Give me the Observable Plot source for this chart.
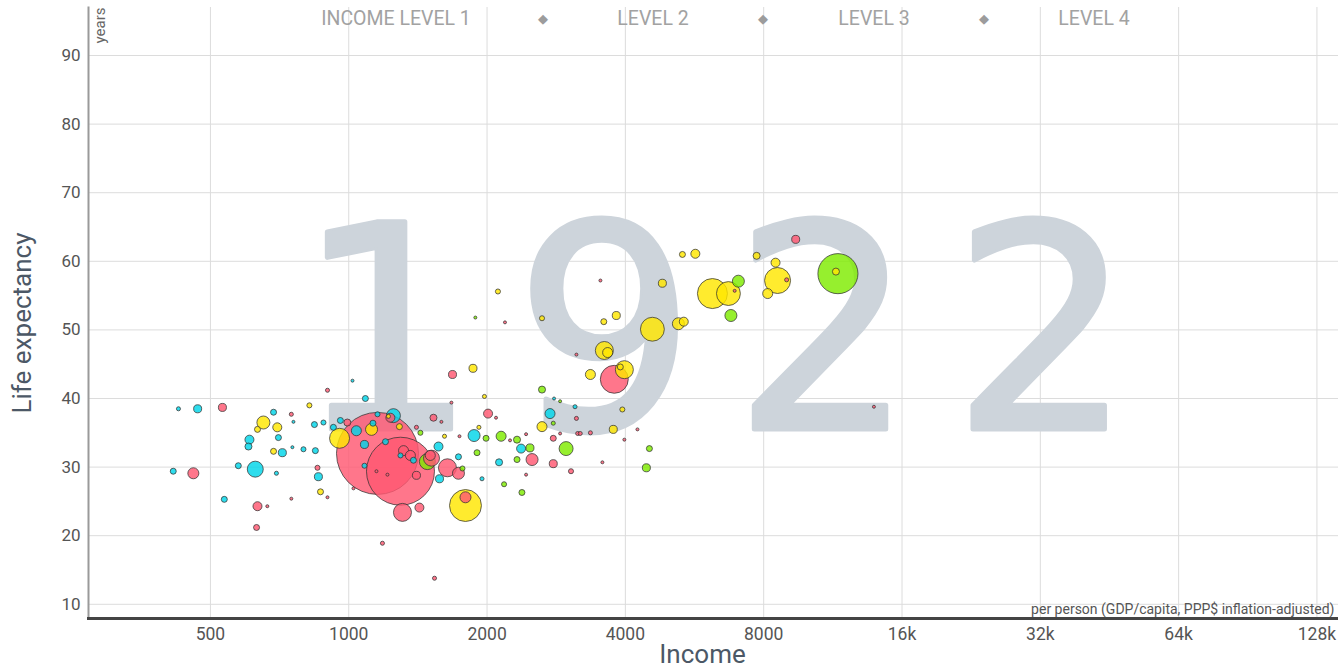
<!DOCTYPE html>
<html>
<head>
<meta charset="utf-8">
<script src="https://cdn.jsdelivr.net/npm/d3@7"></script>
<script src="https://cdn.jsdelivr.net/npm/@observablehq/plot@0.6"></script>
<style>
  html, body { margin: 0; padding: 0; background: #fff; }
  #wrap { position: relative; width: 1338px; height: 669px; overflow: hidden; }
  #legend { position: absolute; left: 0; top: 0; width: 1338px; height: 40px;
    font-family: "Roboto", sans-serif; font-size: 19.5px; color: #a2a2a2; }
  #legend span { position: absolute; top: 7px; transform: translateX(-50%); white-space: nowrap; }
  #legend span.dia { font-size: 13px; top: 11px; color: #9c9c9c; }
</style>
</head>
<body>
<div id="wrap"><div id="legend"></div></div>
<script>
// ---- data ----
const year = "1922";
const regionKeys = ["africa", "americas", "asia", "europe"];
const regionColors = ["#00d5e9", "#7feb00", "#ff5872", "#ffe700"];
const legendLabels = ["INCOME LEVEL 1", "LEVEL 2", "LEVEL 3", "LEVEL 4"];
const xTicks = [500, 1000, 2000, 4000, 8000, 16000, 32000, 64000, 128000];
const xTickLabels = ["500", "1000", "2000", "4000", "8000", "16k", "32k", "64k", "128k"];
const yTicks = [10, 20, 30, 40, 50, 60, 70, 80, 90];

// GDP per capita (PPP$)
const income = [426,469,531,415,459,686,750,652,633,699,758,842,881,821,608,605,703,686,717,754,797,846,575,626,696,855,859,868,899,536,633,665,750,630,899,1019,1087,1155,1296,955,959,993,1039,926,1121,1129,1155,1251,1232,1220,1289,1082,1202,1529,1591,1673,1974,2010,2092,1874,1990,2146,1920,1616,1742,1432,1404,1902,1568,1316,1362,1383,1296,1483,1514,1505,1640,1733,1733,1768,1576,1404,1214,1149,1082,1425,1309,1795,1795,2124,1950,2178,1024,1184,1537,1864,2634,3784,3980,3900,3357,2798,2884,3108,2742,2787,3130,2634,3940,3765,4250,3150,3190,3357,2884,2324,2244,2432,2787,2372,2480,2972,2506,2787,2324,3980,4512,4444,3565,3046,2432,2382,9392,5324,5680,7722,8490,11606,11490,8576,8975,8162,6188,6704,7047,6917,6788,4815,4580,5217,5360,3530,3822,3590,2188,2634,3600,3660,3130,13900,2112,1886,1682];
// life expectancy (years)
const lifeExpectancy = [38.5,38.5,38.7,29.4,29.1,38.0,37.7,36.5,35.5,35.8,36.6,36.2,36.5,39.0,34.0,33.0,34.3,32.3,32.1,32.9,32.6,32.4,30.2,29.7,29.1,29.9,28.6,26.4,25.6,25.3,24.3,24.3,25.4,21.2,41.2,42.6,40.0,32.0,29.4,34.2,36.8,36.5,35.3,35.8,35.5,36.4,37.7,37.5,37.2,37.4,35.9,33.3,33.7,37.2,36.6,39.4,40.3,37.8,37.2,34.6,34.2,34.5,35.8,34.5,34.5,35.0,35.8,32.1,33.0,32.4,31.7,31.0,31.7,30.8,31.3,31.7,29.9,29.1,31.5,29.8,28.3,28.8,28.9,29.4,30.2,24.1,23.4,24.4,25.6,30.7,28.3,27.5,26.9,18.9,13.8,44.4,41.3,42.8,44.2,44.6,43.5,40.0,39.6,38.8,37.8,36.4,37.1,35.9,38.4,35.5,35.5,34.9,34.9,35.0,34.9,34.0,33.9,34.8,34.2,32.7,32.8,32.7,31.1,30.5,31.1,34.0,32.7,29.9,30.7,29.4,28.9,26.3,63.2,61.0,61.1,60.8,59.8,58.2,58.5,57.2,57.3,55.3,55.3,55.3,57.1,55.7,52.1,56.8,50.1,50.9,51.2,57.2,52.1,51.2,51.1,51.7,47.0,46.7,46.4,38.8,55.6,51.8,43.5];
// population (millions)
const population = [1.1,4.3,4.3,2.4,8.1,2.4,1.1,11.3,2.4,5.4,0.6,2.4,1.7,1.7,5.4,3.3,2.4,2.4,4.3,0.6,1.7,2.4,2.4,17,1.1,1.7,4.3,2.4,0.6,2.4,5.4,0.6,0.6,2.4,1.1,0.6,2.4,448,308,26.6,2.4,3.3,6.7,2.4,9.6,2.4,1.7,13,5.4,1.1,2.4,4.3,2.4,3.3,0.6,0.6,1.1,5.4,0.6,9.6,2.4,6.7,1.1,1.1,0.6,1.7,1.1,2.4,5.4,6.7,6.7,2.4,1.7,17,17,6.7,21.6,9.6,2.4,1.7,4.3,4.3,0.6,0.6,1.7,5.4,21.6,68,8.1,3.3,1.1,1.7,0.6,1.1,1.1,4.3,3.3,52,21.6,2.4,6.7,0.6,0.6,1.1,6.7,1.1,1.1,6.7,1.7,4.3,0.6,1.1,1.1,1.1,0.6,3.3,0.6,0.6,2.4,5.4,4.3,13,9.6,4.3,2.4,0.6,2.4,4.3,0.6,1.7,0.6,2.4,4.3,2.4,5.4,3.3,5.4,107,3.3,45,1.1,6.7,60,38,9.6,0.6,9.6,4.3,38,9.6,5.4,0.6,4.3,2.4,0.6,1.7,21.6,6.7,0.6,0.6,1.7,0.6,4.3];
// world region of each country
const region = ["africa","africa","asia","africa","asia","africa","asia","europe","europe","europe","africa","africa","africa","europe","africa","africa","africa","europe","africa","africa","africa","africa","africa","africa","africa","asia","africa","europe","asia","africa","asia","asia","asia","asia","asia","africa","africa","asia","asia","europe","africa","asia","africa","africa","europe","africa","africa","africa","asia","europe","europe","africa","africa","asia","asia","asia","europe","asia","asia","africa","americas","americas","europe","europe","asia","americas","asia","americas","africa","asia","asia","africa","africa","americas","asia","asia","asia","asia","africa","americas","africa","asia","asia","asia","africa","asia","asia","europe","asia","africa","africa","americas","asia","asia","asia","europe","americas","asia","europe","europe","europe","africa","americas","africa","africa","americas","asia","europe","europe","europe","asia","asia","asia","asia","asia","americas","asia","asia","asia","africa","americas","americas","asia","asia","americas","asia","americas","americas","asia","asia","asia","americas","asia","europe","europe","europe","europe","americas","europe","europe","asia","europe","europe","europe","americas","asia","americas","europe","europe","europe","europe","asia","europe","europe","asia","europe","europe","europe","asia","asia","europe","americas","asia"];

const data = income.map((d, i) => ({
  income: d, life: lifeExpectancy[i], pop: population[i], region: region[i]
})).sort((a, b) => b.pop - a.pop);

const chart = Plot.plot({
  width: 1338,
  height: 669,
  marginLeft: 88,
  marginRight: 0,
  marginTop: 7,
  marginBottom: 51,
  style: { fontFamily: "Roboto, sans-serif", background: "#fff", overflow: "visible" },
  x: { type: "log", domain: [271.4, 142600], axis: null },
  y: { domain: [7.93, 97], axis: null },
  r: { type: "sqrt", domain: [0, 470], range: [0, 42] },
  color: { domain: regionKeys, range: regionColors },
  marks: [
    Plot.gridY(yTicks, { stroke: "#dcdcdc", strokeOpacity: 1, strokeWidth: 1 }),
    Plot.gridX(xTicks, { stroke: "#dcdcdc", strokeOpacity: 1, strokeWidth: 1 }),
    Plot.text([year], { text: d => d, frameAnchor: "middle", fontSize: 284, fontFamily: "DejaVu Sans",
      fill: "#cdd4db", stroke: "#cdd4db", strokeWidth: 5, strokeLinejoin: "round", dx: 20, dy: 25 }),
    Plot.dot(data, { x: "income", y: "life", r: "pop", fill: "region", fillOpacity: 0.82,
      stroke: "#333", strokeOpacity: 0.75, strokeWidth: 1 }),
    Plot.axisY(yTicks, { tickSize: 0, tickPadding: 8, fontSize: 17, fill: "#555", label: null }),
    Plot.text(xTicks, { x: d => d, text: xTickLabels, frameAnchor: "bottom", lineAnchor: "top",
      dy: 9, fontSize: 17.5, fill: "#555" }),
    Plot.frame({ anchor: "left", stroke: "#9a9a9a", strokeWidth: 2 }),
    Plot.frame({ anchor: "bottom", stroke: "#444", strokeWidth: 3 }),
    Plot.text(["years"], { text: d => d, frameAnchor: "top-left", rotate: -90, textAnchor: "end",
      lineAnchor: "top", dx: 6, fontSize: 15, fill: "#666" }),
    Plot.text(["Life expectancy"], { text: d => d, frameAnchor: "left", rotate: -90, textAnchor: "middle",
      dx: -66, dy: 10, fontSize: 26, fill: "#4c5866" }),
    Plot.text(["Income"], { text: d => d, frameAnchor: "bottom", textAnchor: "middle", lineAnchor: "bottom",
      dx: -11, dy: 44, fontSize: 26, fill: "#4c5866" }),
    Plot.text(["per person (GDP/capita, PPP$ inflation-adjusted)"], { text: d => d,
      frameAnchor: "bottom-right", textAnchor: "end", lineAnchor: "bottom", dx: -4, dy: -5,
      fontSize: 14, fill: "#555" })
  ]
});

// wide letter spacing for the year watermark
d3.select(chart).selectAll("text").filter(function () { return this.textContent === year; })
  .attr("letter-spacing", "38px");

const wrap = document.getElementById("wrap");
wrap.insertBefore(chart, wrap.firstChild);

// legend across the top
const legend = document.getElementById("legend");
const legendPos = [396, 653, 874, 1094];
const diaPos = [543, 763, 984];
legendLabels.forEach((t, i) => {
  const s = document.createElement("span");
  s.textContent = t; s.style.left = legendPos[i] + "px";
  legend.appendChild(s);
});
diaPos.forEach(p => {
  const s = document.createElement("span");
  s.className = "dia"; s.textContent = "◆"; s.style.left = p + "px";
  legend.appendChild(s);
});
</script>
</body>
</html>
